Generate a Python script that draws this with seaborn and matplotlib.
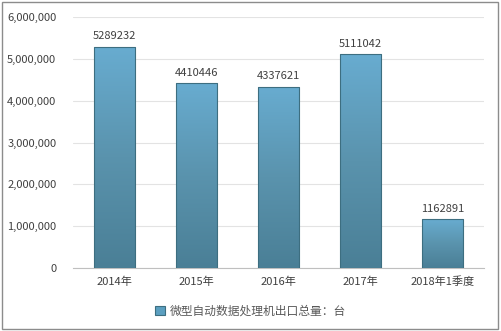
import matplotlib
matplotlib.use("Agg")
import matplotlib.pyplot as plt
import seaborn as sns
import numpy as np
import pandas as pd
from matplotlib.patches import Rectangle
from matplotlib.colors import LinearSegmentedColormap

categories = ["2014年", "2015年", "2016年", "2017年", "2018年1季度"]
values = [5289232, 4410446, 4337621, 5111042, 1162891]
yticks = [0, 1000000, 2000000, 3000000, 4000000, 5000000, 6000000]
series_name = "微型自动数据处理机出口总量：台"

sns.set_theme(style="white")
plt.rcParams['font.family'] = ['Noto Sans CJK SC', 'DejaVu Sans']

fig = plt.figure(figsize=(5.01, 3.31), dpi=100)
ax = fig.add_axes([73/501, 63/331, 411/501, 251/331])

df = pd.DataFrame({"cat": categories, "val": values})
sns.barplot(data=df, x="cat", y="val", ax=ax, color="#5b9fc0", width=0.5,
            edgecolor="#3d6e80", linewidth=0.8, zorder=3)

ax.set_ylim(0, 6000000)
ax.set_yticks(yticks)
ax.set_yticklabels([f"{v:,}" for v in yticks])
ax.set_xlim(-0.5, 4.5)
ax.set_xlabel("")
ax.set_ylabel("")
ax.tick_params(axis='both', length=0, labelsize=8, colors="#404040")
ax.tick_params(axis='y', pad=12)
ax.tick_params(axis='x', pad=6)
ax.yaxis.grid(True, color="#e3e3e3", linewidth=0.8, zorder=0)
ax.set_axisbelow(True)
for s in ["left", "right", "top"]:
    ax.spines[s].set_visible(False)
ax.spines["bottom"].set_color("#bfbfbf")
ax.spines["bottom"].set_linewidth(0.8)

# gradient fill
cmap = LinearSegmentedColormap.from_list("g", ["#4a7f96", "#5a93ad", "#68acd0"])
grad = np.linspace(0, 1, 256).reshape(-1, 1)
for p in list(ax.patches):
    x0, y0 = p.get_x(), p.get_y()
    w, h = p.get_width(), p.get_height()
    im = ax.imshow(grad, extent=[x0, x0 + w, y0, y0 + h], origin="lower",
                   cmap=cmap, aspect="auto", zorder=3.5)
    im.set_clip_path(p)
    p.set_facecolor("none")
    p.set_zorder(4)
    ax.annotate(f"{int(round(h))}", (x0 + w / 2, h), xytext=(0, 4),
                textcoords="offset points", ha="center", va="bottom",
                fontsize=8, color="#404040")
ax.set_xlim(-0.5, 4.5)
ax.set_ylim(0, 6000000)

# legend
handle = Rectangle((0, 0), 1, 1, facecolor="#5b9fc0", edgecolor="#3d6e80", linewidth=0.8)
fig.legend([handle], [series_name], loc="center", bbox_to_anchor=(0.5, 1 - 311/331),
           frameon=False, fontsize=8.5, handlelength=0.8, handleheight=0.8,
           handletextpad=0.4, labelcolor="#595959")

# outer border
fig.patches.append(Rectangle((0.004, 0.006), 0.99, 0.988, transform=fig.transFigure,
                             fill=False, edgecolor="#8c8c8c", linewidth=1.0))

fig.savefig("out.png", dpi=100)
